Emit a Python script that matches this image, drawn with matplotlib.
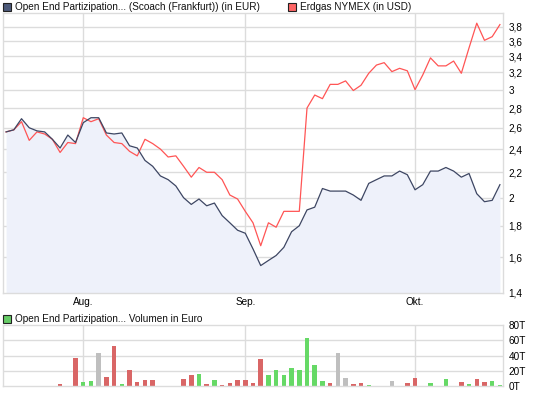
import matplotlib
matplotlib.use("Agg")
import matplotlib.pyplot as plt
from matplotlib.patches import Rectangle
import numpy as np

# ---- data (trading-day index, 0 = first trading day of August) ----
days = list(range(-10, 55))
fund_eur = [2.56, 2.58, 2.69, 2.60, 2.57, 2.56, 2.49, 2.41, 2.53, 2.46,
            2.65, 2.70, 2.70, 2.55, 2.54, 2.55, 2.43, 2.41, 2.30, 2.25,
            2.17, 2.14, 2.09, 2.00, 1.95, 1.99, 1.94, 1.96, 1.87, 1.82,
            1.77, 1.75, 1.65, 1.55, 1.58, 1.61, 1.66, 1.76, 1.80, 1.91,
            1.93, 2.07, 2.05, 2.05, 2.05, 2.02, 1.98, 2.11, 2.14, 2.17,
            2.17, 2.21, 2.18, 2.06, 2.10, 2.21, 2.21, 2.24, 2.21, 2.16,
            2.19, 2.03, 1.97, 1.98, 2.10]
gas_usd = [2.56, 2.58, 2.66, 2.48, 2.56, 2.54, 2.49, 2.37, 2.46, 2.45,
           2.70, 2.66, 2.69, 2.53, 2.46, 2.45, 2.38, 2.34, 2.49, 2.45,
           2.40, 2.33, 2.34, 2.25, 2.16, 2.24, 2.20, 2.20, 2.14, 2.02,
           1.99, 1.90, 1.82, 1.67, 1.82, 1.79, 1.90, 1.90, 1.90, 2.80,
           2.94, 2.90, 3.06, 3.06, 3.10, 2.99, 3.05, 3.19, 3.29, 3.32,
           3.21, 3.25, 3.22, 3.00, 3.17, 3.38, 3.28, 3.28, 3.34, 3.19,
           3.51, 3.85, 3.61, 3.66, 3.83]
volume_t = [0, 0, 0, 0, 0, 0, 0, 3, 0, 37,
            5.4, 6.7, 43, 12, 52.6, 2.7, 21.6, 5.4, 8, 8,
            0, 0, 0, 9.4, 14.8, 16, 2.7, 8, 1.3, 4,
            8, 8, 4, 35, 14.8, 21.6, 14.8, 23, 21.6, 63,
            27, 6.7, 4, 43, 10.8, 2.7, 4, 1.3, 0, 0,
            6.7, 0, 4, 10.8, 0, 4, 0, 9.4, 0, 5.4,
            2.7, 9.4, 5.4, 6.7, 1.3]
volume_dir = ['f', 'f', 'f', 'f', 'f', 'f', 'f', 'd', 'f', 'd',
              'u', 'u', 'f', 'd', 'd', 'u', 'd', 'd', 'd', 'd',
              'f', 'f', 'f', 'd', 'd', 'u', 'd', 'u', 'd', 'd',
              'd', 'd', 'd', 'd', 'u', 'u', 'u', 'u', 'u', 'u',
              'u', 'u', 'd', 'f', 'f', 'd', 'd', 'u', 'f', 'f',
              'f', 'f', 'd', 'd', 'f', 'u', 'f', 'u', 'f', 'd',
              'u', 'd', 'd', 'u', 'u']
month_pos = [0, 21, 43]
month_labels = ["Aug.", "Sep.", "Okt."]
price_ticks = [1.4, 1.6, 1.8, 2.0, 2.2, 2.4, 2.6, 2.8, 3.0, 3.2, 3.4, 3.6, 3.8]
price_tick_labels = ["1,4", "1,6", "1,8", "2", "2,2", "2,4", "2,6", "2,8",
                     "3", "3,2", "3,4", "3,6", "3,8"]
vol_ticks = [0, 20, 40, 60, 80]
vol_tick_labels = ["0T", "20T", "40T", "60T", "80T"]

DARK = "#3d4663"
RED = "#ff5555"
FILL = "#eef1fa"
GRID = "#dcdcdc"
BAR_COL = {'u': '#66d966', 'd': '#d96666', 'f': '#bfbfbf'}
FONT = "Liberation Sans"
FS = 7.2

W, H = 545, 395
fig = plt.figure(figsize=(W / 100, H / 100), dpi=100)
fig.patch.set_facecolor("white")

def fx(px):
    return px / W

def fy(py):
    return 1 - py / H

ax = fig.add_axes([fx(3), fy(292.7), fx(503 - 3), fy(13) - fy(292.7)])
axv = fig.add_axes([fx(3), fy(386), fx(503 - 3), fy(325) - fy(386)])

xlim = (-10.4, 54.4)

# ---- main price chart ----
ax.set_yscale("log")
ax.set_ylim(1.4, 4.0)
ax.set_xlim(*xlim)
ax.fill_between(days, fund_eur, 1.4, color=FILL, lw=0, zorder=1)
for p in price_ticks[1:]:
    ax.axhline(p, color=GRID, lw=1, zorder=0.5)
for m in month_pos:
    ax.axvline(m, color=GRID, lw=1, zorder=0.5)
ax.plot(days, gas_usd, color=RED, lw=0.9, zorder=3)
ax.plot(days, fund_eur, color=DARK, lw=0.9, zorder=4)
ax.yaxis.tick_right()
ax.set_yticks(price_ticks)
ax.set_yticklabels(price_tick_labels, fontsize=FS, family=FONT)
ax.yaxis.set_minor_locator(matplotlib.ticker.NullLocator())
ax.set_xticks(month_pos)
ax.set_xticklabels(month_labels, fontsize=FS, family=FONT)
ax.tick_params(axis="both", length=0, pad=3)
ax.tick_params(axis="y", pad=4)
for s in ax.spines.values():
    s.set_color(GRID)
    s.set_linewidth(1)

# ---- volume chart ----
axv.set_xlim(*xlim)
axv.set_ylim(0, 80)
for v in vol_ticks[1:-1]:
    axv.axhline(v, color=GRID, lw=1, zorder=0.5)
for m in month_pos:
    axv.axvline(m, color=GRID, lw=1, zorder=0.5)
axv.bar(days, volume_t, width=0.58, color=[BAR_COL[d] for d in volume_dir],
        zorder=2)
axv.yaxis.tick_right()
axv.set_yticks(vol_ticks)
axv.set_yticklabels(vol_tick_labels, fontsize=FS, family=FONT)
axv.set_xticks([])
axv.tick_params(axis="both", length=0, pad=4)
for s in axv.spines.values():
    s.set_color(GRID)
    s.set_linewidth(1)

# ---- legends ----
def legend_item(px, py, color, text):
    fig.patches.append(Rectangle((fx(px), fy(py + 8)), fx(8), fy(0) - fy(8),
                                 transform=fig.transFigure, facecolor=color,
                                 edgecolor="#222222", lw=0.8))
    fig.text(fx(px + 12), fy(py + 4), text, fontsize=FS, family=FONT,
             va="center", ha="left", color="#111111")

legend_item(3, 3, "#4d5a7a", "Open End Partizipation... (Scoach (Frankfurt)) (in EUR)")
legend_item(288, 3, "#ff6666", "Erdgas NYMEX (in USD)")
legend_item(3, 315, "#66cc66", "Open End Partizipation... Volumen in Euro")

fig.savefig("out.png", dpi=100)
